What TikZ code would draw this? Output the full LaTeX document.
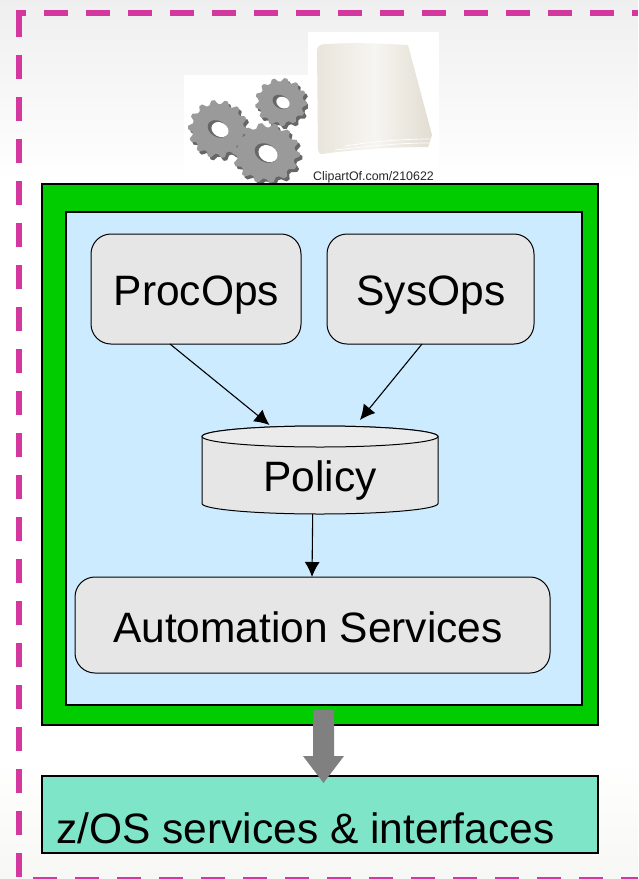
\documentclass[tikz,border=0pt]{standalone}
\usepackage{fontspec}
\setmainfont{Liberation Sans}
\usetikzlibrary{shapes.geometric,arrows.meta,calc}
\definecolor{magentadash}{HTML}{D4389E}
\definecolor{greenframe}{HTML}{00CC00}
\definecolor{panelblue}{HTML}{CCEBFF}
\definecolor{boxgrey}{HTML}{E6E6E6}
\definecolor{boxlight}{HTML}{EBEBEB}
\definecolor{mint}{HTML}{7FE5C9}
\definecolor{bandtop}{HTML}{EFEFEF}
\definecolor{bandlow}{HTML}{F7F7F5}
\definecolor{geargrey}{HTML}{9A9A9A}
\definecolor{geardark}{HTML}{666666}
\definecolor{paperl}{HTML}{E9E5DB}
\definecolor{paperm}{HTML}{F7F5F1}
\definecolor{paperr}{HTML}{E2DDD2}
\newcommand{\gearpath}[5]{% cx cy rx ry teeth
  \pgfmathtruncatemacro{\lastk}{#5-1}%
  \gdef\gearp{({#1+#3},{#2})}%
  \foreach \k in {0,...,\lastk}{%
    \pgfmathsetmacro{\aa}{\k*360/#5}%
    \pgfmathsetmacro{\ab}{\aa+90/#5}%
    \pgfmathsetmacro{\ac}{\aa+180/#5}%
    \pgfmathsetmacro{\ad}{\aa+270/#5}%
    \pgfmathsetmacro{\ae}{\aa+360/#5}%
    \xdef\gearp{\gearp -- ({#1+#3*cos(\ab)},{#2+#4*sin(\ab)}) -- ({#1+.86*#3*cos(\ac)},{#2+.86*#4*sin(\ac)}) -- ({#1+.86*#3*cos(\ad)},{#2+.86*#4*sin(\ad)}) -- ({#1+#3*cos(\ae)},{#2+#4*sin(\ae)})}%
  }}
\newcommand{\drawgear}[7]{% cx cy rx ry teeth holex holey
  \gearpath{#1+2.5}{#2+3}{#3}{#4}{#5}%
  \fill[geardark] \gearp -- cycle;
  \gearpath{#1}{#2}{#3}{#4}{#5}%
  \fill[geargrey] \gearp -- cycle;
  \fill[geardark] (#1,#2) ellipse[x radius=#6,y radius=#7,rotate=-30];
  \fill[white] ({#1+2},{#2+.6}) ellipse[x radius=#6-2,y radius=#7-1,rotate=-30];
}
\tikzset{
  panel/.style={draw=black,line width=1.7pt,inner sep=0pt,outer sep=0pt},
  roundbox/.style={draw=black,line width=1pt,fill=boxgrey,rounded corners=20pt,inner sep=0pt,outer sep=0pt},
  dbanchor/.style={rectangle,inner sep=0pt,outer sep=0pt},
  dbwall/.style={draw=black,line width=1pt},
  label text/.style={font=\fontsize{42.5pt}{46pt}\selectfont,inner sep=0pt,text=black},
  flow/.style={draw=black,line width=1.1pt,-{Latex[length=15pt,width=15pt]}},
  dashline/.style={draw=magentadash,line width=6pt,dash pattern=on 24pt off 18pt},
}
\begin{document}
\begin{tikzpicture}[x=1pt,y=-1pt]
\useasboundingbox (0,0) rectangle (638,879);
% background
\fill[white] (0,0) rectangle (638,879);
\shade[top color=bandtop,bottom color=white!98!bandtop] (0,0) rectangle (638,179);
\shade[top color=white,bottom color=bandlow] (0,760) rectangle (638,879);
% dashed frame
\draw[dashline] (18.5,13) -- (18.5,879);
\draw[draw=magentadash,line width=6pt] (15.5,13) -- (26,13);
\draw[dashline] (44,13) -- (638,13);
\draw[dashline,line width=3pt] (33,878) -- (638,878);
% clip art
\fill[white] (184,75) rectangle (308,184);
\drawgear{281}{102}{26}{24}{13}{9}{6.5}
\drawgear{218}{129}{30}{29}{14}{11}{8}
\drawgear{266}{153}{34}{30}{14}{12}{9}
\fill[white] (308,32) rectangle (439,184);
\shade[left color=paperl,right color=paperr,middle color=paperm]
  (317,50) .. controls (318,44) and (322,44) .. (330,44) .. controls (355,42) and (385,44) .. (408,45) -- (432,135) -- (428,147)
  .. controls (390,147) and (350,150) .. (322,154) .. controls (318,154) and (318,150) .. (318,148) -- cycle;
\draw[white,line width=.7pt] (345,146) .. controls (370,142) and (400,139) .. (430,139);
\draw[white,line width=.7pt] (335,150) .. controls (370,146) and (400,143) .. (429,143);
\node[inner sep=0pt,text=black!85] (clipcredit) at (373.5,177) {\fontsize{12.4pt}{13pt}\selectfont ClipartOf.com/210622};
% frames
\node[panel,fill=greenframe,minimum width=556pt,minimum height=541pt] (outer) at (320,454.5) {};
\node[panel,fill=panelblue,minimum width=516pt,minimum height=493pt] (inner) at (324,458.5) {};
\node[roundbox,minimum width=210pt,minimum height=110pt] (procops) at (196,289) {};
\node[label text] (procopstext) at (196.5,295) {ProcOps};
\node[roundbox,minimum width=207pt,minimum height=110pt] (sysops) at (430.5,289) {};
\node[label text] (sysopstext) at (431,295) {SysOps};
\node[dbanchor,minimum width=236pt,minimum height=88pt] (policy) at (320,470) {};
\coordinate (polw) at ([yshift=-10.5pt]policy.north west);
\coordinate (pole) at ([yshift=-10.5pt]policy.north east);
\coordinate (polsw) at ([yshift=10.5pt]policy.south west);
\coordinate (polse) at ([yshift=10.5pt]policy.south east);
\coordinate (polfront) at ([yshift=-21pt]policy.north);
\draw[dbwall,fill=boxgrey] (polw) -- (polsw)
  .. controls +(0,5.8) and +(-65,0) .. (policy.south)
  .. controls +(65,0) and +(0,5.8) .. (polse) -- (pole)
  .. controls +(0,-5.8) and +(65,0) .. (policy.north)
  .. controls +(-65,0) and +(0,-5.8) .. (polw) -- cycle;
\draw[dbwall,fill=boxlight] (polw)
  .. controls +(0,5.8) and +(-65,0) .. (polfront)
  .. controls +(65,0) and +(0,5.8) .. (pole)
  .. controls +(0,-5.8) and +(65,0) .. (policy.north)
  .. controls +(-65,0) and +(0,-5.8) .. (polw) -- cycle;
\node[label text] (policytext) at (320,481) {Policy};
\node[roundbox,minimum width=475pt,minimum height=96pt] (automation) at (312.5,625) {};
\node[label text] (automationtext) at (308,627) {Automation Services};
\node[panel,fill=mint,minimum width=556pt,minimum height=77pt] (zos) at (320,814.5) {};
\node[label text,anchor=base west] (zostext) at (56,843.5) {z/OS services \& interfaces};
% connectors
\draw[flow] ([xshift=-26pt]procops.south) -- ([xshift=-50.5pt,yshift=1pt]policy.north);
\draw[flow] ([xshift=-8.5pt]sysops.south) -- ([xshift=40pt,yshift=6pt]policy.north);
\draw[flow] ([xshift=-7.3pt]policy.south) -- ([xshift=-0.5pt]automation.north);
\fill[gray] ([xshift=-7pt,yshift=15pt]outer.south)
  -- ++(21,0) -- ++(0,46) -- ++(10,0) -- ++(-20.5,27) -- ++(-20.5,-27) -- ++(10,0) -- cycle;
\end{tikzpicture}
\end{document}
